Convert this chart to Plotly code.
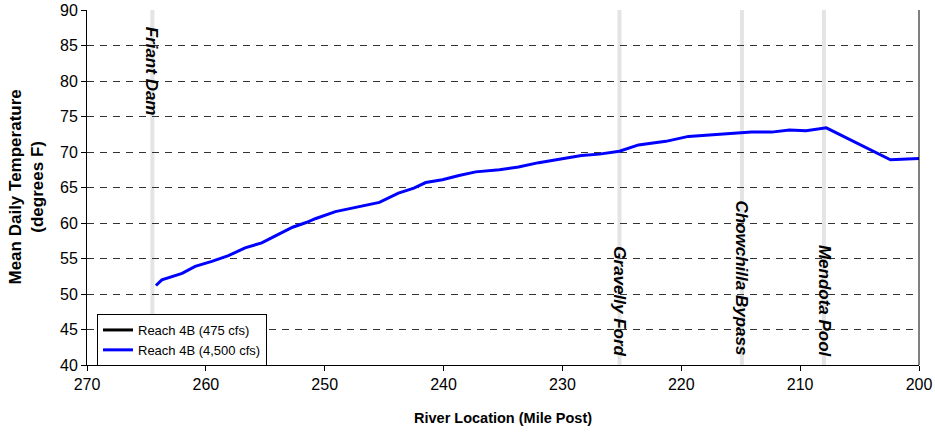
import plotly.graph_objects as go

# River mile posts and mean daily temperature (deg F)
miles = [264.2, 263.7, 262.0, 260.9, 259.5, 258.1, 256.7, 255.3, 253.9, 252.7,
         251.5, 250.8, 249.1, 247.1, 245.4, 243.8, 242.5, 241.5, 240.1, 238.7,
         237.3, 235.3, 233.7, 232.0, 230.0, 228.4, 226.9, 225.2, 223.6, 221.3,
         219.4, 217.7, 215.2, 214.1, 212.4, 210.9, 209.5, 207.8, 202.4, 200.0]
temp_4500 = [51.2, 52.0, 52.9, 53.9, 54.6, 55.4, 56.5, 57.2, 58.4, 59.4,
             60.1, 60.6, 61.6, 62.3, 62.9, 64.2, 64.9, 65.7, 66.1, 66.7,
             67.2, 67.5, 67.9, 68.5, 69.1, 69.5, 69.7, 70.1, 71.0, 71.5,
             72.2, 72.4, 72.6, 72.8, 72.8, 73.1, 73.0, 73.4, 68.9, 69.1]

# Landmarks
landmark_names = ["Friant Dam", "Gravelly Ford", "Chowchilla Bypass", "Mendota Pool"]
landmark_miles = [264.5, 225.2, 214.9, 208.0]
landmark_label_y = [81.4, 48.9, 52.2, 48.9]

x_ticks = [270, 260, 250, 240, 230, 220, 210, 200]
y_ticks = [40, 45, 50, 55, 60, 65, 70, 75, 80, 85, 90]

FONT = "Liberation Sans, Arial, sans-serif"

fig = go.Figure()

fig.add_trace(go.Scatter(
    x=[None], y=[None], mode="lines", name="Reach 4B (475 cfs)",
    line=dict(color="black", width=3), hoverinfo="skip"))
fig.add_trace(go.Scatter(
    x=miles, y=temp_4500, mode="lines", name="Reach 4B (4,500 cfs)",
    line=dict(color="#0000ff", width=3)))

shapes = []
for m in landmark_miles:
    shapes.append(dict(type="line", xref="x", yref="paper", x0=m, x1=m, y0=0, y1=1,
                       line=dict(color="#e4e4e4", width=4), layer="below"))
# right border of plot area
shapes.append(dict(type="line", xref="paper", yref="paper", x0=1, x1=1, y0=0, y1=1,
                   line=dict(color="black", width=1)))

annotations = []
for name, m, yv in zip(landmark_names, landmark_miles, landmark_label_y):
    annotations.append(dict(
        x=m, y=yv, xref="x", yref="y", text=name, showarrow=False,
        textangle=90, xanchor="center", yanchor="middle",
        font=dict(family=FONT, size=17, color="black", weight="bold", style="italic")))

# axis titles
plot_w = 935 - 87 - 16
plot_h = 435 - 10 - 70
annotations.append(dict(
    x=-(87 - 26) / plot_w, y=0.5, xref="paper", yref="paper",
    text="Mean Daily Temperature<br>(degrees F)", showarrow=False, textangle=-90,
    xanchor="center", yanchor="middle",
    font=dict(family=FONT, size=17, color="black", weight="bold")))
annotations.append(dict(
    x=0.5, y=-(418 - 365) / plot_h, xref="paper", yref="paper",
    text="River Location (Mile Post)", showarrow=False,
    xanchor="center", yanchor="middle",
    font=dict(family=FONT, size=14.5, color="black", weight="bold")))

fig.update_layout(
    template="none",
    width=935, height=435,
    margin=dict(l=87, r=16, t=10, b=70, autoexpand=False),
    paper_bgcolor="white", plot_bgcolor="white",
    font=dict(family=FONT, color="black"),
    showlegend=True,
    legend=dict(x=(97 - 87) / plot_w, y=(365 - 314) / plot_h, xanchor="left", yanchor="top",
                bordercolor="black", borderwidth=1, bgcolor="white",
                font=dict(family=FONT, size=13, color="black"),
                itemwidth=30, tracegroupgap=0),
    shapes=shapes,
    annotations=annotations,
    xaxis=dict(range=[270, 200], tickvals=x_ticks, ticktext=[str(v) for v in x_ticks],
               automargin=False,
               showgrid=False, zeroline=False, showline=True, linecolor="black", linewidth=1,
               ticks="outside", ticklen=5, tickcolor="black",
               tickfont=dict(family=FONT, size=16, color="black")),
    yaxis=dict(range=[40, 90], tickvals=y_ticks, ticktext=[str(v) for v in y_ticks],
               automargin=False,
               showgrid=True, gridcolor="#333333", gridwidth=1, griddash="7px,6px",
               zeroline=False, showline=True, linecolor="black", linewidth=1,
               ticks="outside", ticklen=5, tickcolor="black",
               tickfont=dict(family=FONT, size=16, color="black")),
)

fig.write_html("out.html",
               config={"displayModeBar": False},
               post_script="document.body.style.margin='0';document.body.style.overflow='hidden';")
